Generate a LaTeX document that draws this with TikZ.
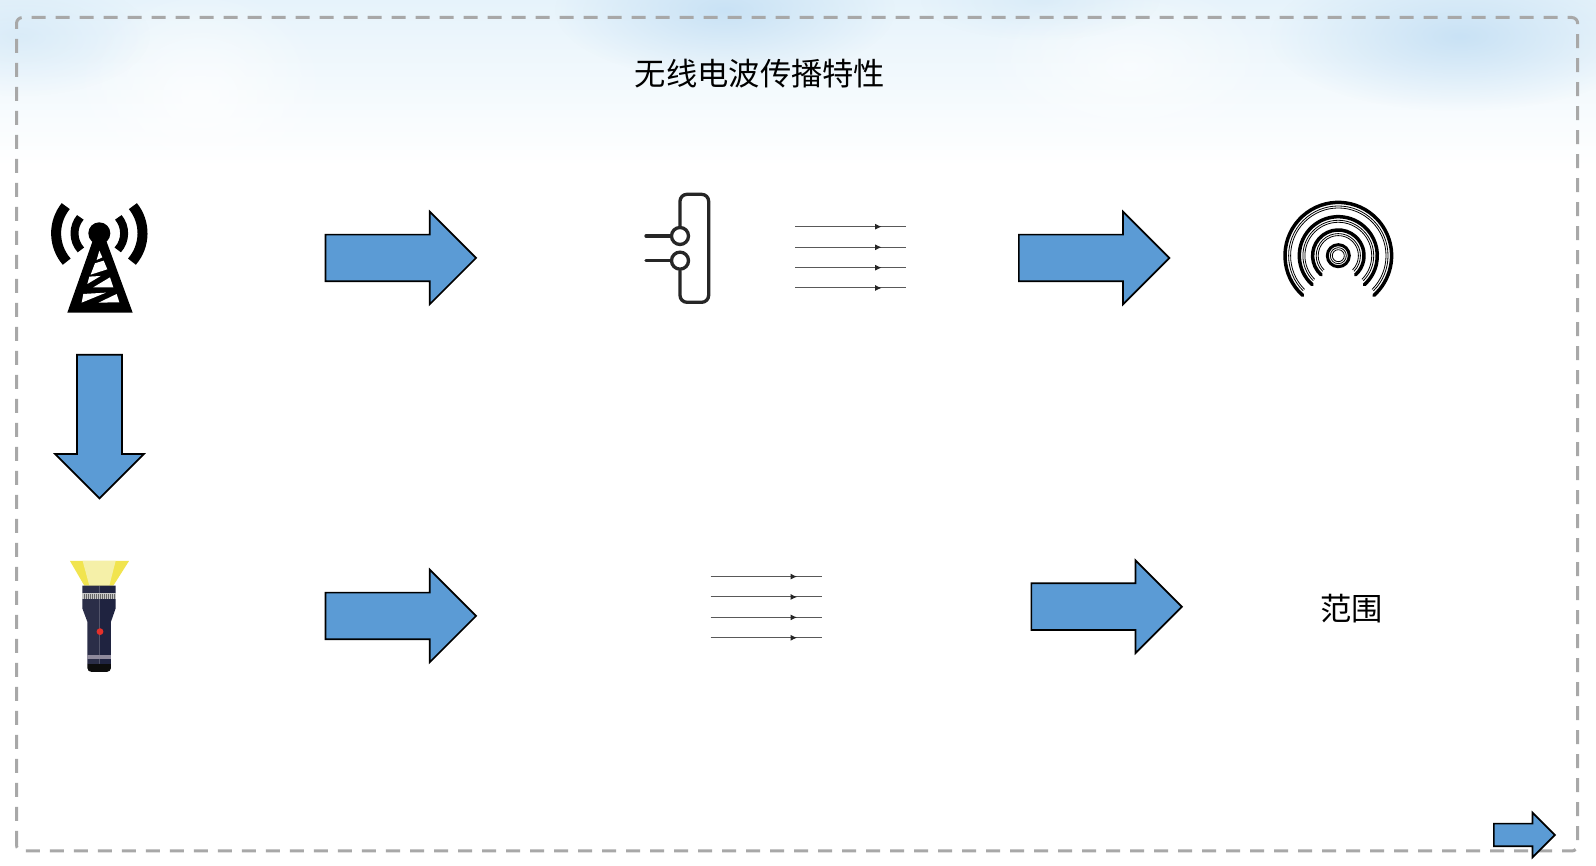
\documentclass[tikz,border=0pt]{standalone}
\usepackage{fontspec}
\newfontfamily\cjk{Noto Sans CJK SC}
\usetikzlibrary{shapes.arrows,arrows.meta,decorations.markings,fadings}
\definecolor{arrowblue}{HTML}{5B9BD5}
\definecolor{framegray}{HTML}{A8A8A8}
\definecolor{skyblue}{HTML}{C9E2F5}
\definecolor{skytop}{HTML}{E6F3FB}
\definecolor{lampdark}{HTML}{2B2E48}
\definecolor{lampnavy}{HTML}{1F2340}
\definecolor{beamouter}{HTML}{F1E44F}
\definecolor{beaminner}{HTML}{F5F0A8}
\definecolor{lampband}{HTML}{8F8A9C}
\definecolor{lampred}{HTML}{E5302A}
\tikzfading[name=blob,inner color=transparent!0,outer color=transparent!100]

\begin{document}
\begin{tikzpicture}[x=1pt,y=1pt]
    \tikzset{
      bigarrow/.style={single arrow,draw=black,fill=arrowblue,line width=1.7pt,inner sep=22.5pt,
        anchor=tail,minimum height=150.5pt,minimum width=92.5pt,single arrow head extend=23pt},
      smallarrow/.style={bigarrow,inner sep=10.5pt,minimum height=61pt,minimum width=44.3pt,single arrow head extend=11pt},
      title/.style={font=\cjk\fontsize{31.3}{31.3}\selectfont,inner sep=0pt},
      ray/.style={draw=black!65,line width=1pt,postaction={decorate},decoration={markings,
        mark=at position 0.78 with {\arrow[black!85]{Latex[length=6.5pt,width=6pt]}}}},
      cloud/.style={fill=skyblue,path fading=blob},
      mast/.style={draw=black,line cap=butt},
      coil/.style={draw=black!85,line width=3.3pt,line cap=round},
      ring/.style={draw=black,line width=3.5pt,line cap=round},
      thinring/.style={draw=black,line width=0.8pt}
    }
    \useasboundingbox (0,0) rectangle (1596,866);

    % sky behind the title
    \fill[white] (0,0) rectangle (1596,866);
    \shade[top color=skytop,bottom color=white] (0,700) rectangle (1596,866);
    \fill[white,path fading=blob,opacity=0.7] (200,770) ellipse (130pt and 110pt);
    \fill[white,path fading=blob,opacity=0.6] (1130,800) ellipse (150pt and 90pt);
    \fill[cloud] (725,856) ellipse (170pt and 70pt);
    \fill[cloud] (1460,830) ellipse (190pt and 75pt);
    \fill[cloud,opacity=0.5] (20,830) ellipse (130pt and 60pt);
    \fill[cloud,opacity=0.4] (1040,866) ellipse (120pt and 40pt);

    % outer frame
    \draw[framegray,line width=3pt,dash pattern=on 14pt off 10pt,rounded corners=6pt]
      (16.5,15) rectangle (1577.7,848.5);

    \node[title] (heading) at (760,792) {无线电波传播特性};
    \node[title] (range) at (1351.5,257) {范围};

    % block arrows
    \node[bigarrow] (txarrow) at (324.7,608) {};
    \node[bigarrow] (rxarrow) at (1018,608) {};
    \node[bigarrow,inner sep=21.5pt,minimum height=143.5pt,minimum width=88.5pt,single arrow head extend=21.5pt,
      shape border rotate=270] (downarrow) at (99.5,512) {};
    \node[bigarrow] (lamparrow) at (324.7,250) {};
    \node[bigarrow] (beamarrow) at (1030.5,259.3) {};
    \node[smallarrow] (nextarrow) at (1493,31) {};

    % radio mast, in zoom units
    \begin{scope}[shift={(0,696)},x=0.3333pt,y=-0.3333pt]
      \coordinate (top) at (298,190);
      \fill (top) circle[radius=11pt];
      \fill (202,428) -- (398,428) -- (318,210) -- (279,210) -- cycle;
      \fill[white] (298,242) -- (307,262) -- (290,270) -- cycle;
      \fill[white] (285,280) -- (311,272) -- (322,298) -- (272,314) -- cycle;
      \fill[white] (268,320) -- (302,318) -- (262,342) -- cycle;
      \fill[white] (330,322) -- (340,352) -- (280,352) -- cycle;
      \fill[white] (250,372) -- (318,368) -- (245,398) -- cycle;
      \fill[white] (350,372) -- (358,397) -- (296,398) -- cycle;
      \draw[mast,line width=10pt] (top) ++(141:43.2pt) arc[start angle=141,end angle=221,radius=43.2pt];
      \draw[mast,line width=10pt] (top) ++(39:43.2pt) arc[start angle=39,end angle=-41,radius=43.2pt];
      \draw[mast,line width=8pt] (top) ++(140:24.8pt) arc[start angle=140,end angle=222,radius=24.8pt];
      \draw[mast,line width=8pt] (top) ++(40:24.8pt) arc[start angle=40,end angle=-42,radius=24.8pt];
    \end{scope}

    % loop aerial
    \begin{scope}[shift={(620,696)},x=0.3333pt,y=-0.3333pt]
      \node[circle,draw=black!85,line width=3.3pt,minimum size=17pt,inner sep=0pt] (portA) at (180,198) {};
      \node[circle,draw=black!85,line width=3.3pt,minimum size=17pt,inner sep=0pt] (portB) at (180,272) {};
      \coordinate (stubA) at (78,198);
      \coordinate (stubB) at (78,272);
      \draw[coil] (stubA) -- (portA);
      \draw[coil] (stubB) -- (portB);
      \draw[coil,rounded corners=7pt] (portA.north) -- (180,73) -- (266,73) -- (266,397) -- (180,397) -- (portB.south);
    \end{scope}

    % parallel rays
    \foreach \i/\ya/\yb in {1/639.3/289.4,2/618.7/269,3/598.3/248.6,4/578/228.2} {
      \coordinate (ra\i) at (795,\ya);
      \coordinate (rb\i) at (906,\ya);
      \coordinate (sa\i) at (710.5,\yb);
      \coordinate (sb\i) at (821.5,\yb);
      \path[ray] (ra\i) -- (rb\i);
      \path[ray] (sa\i) -- (sb\i);
    }

    % rings
    \coordinate (rings) at (1338.3,610.3);
    \foreach \r in {53.3,39,25.7} {
      \draw[ring] (rings) ++(228:\r pt) arc[start angle=228,end angle=-48,radius=\r pt];
      \draw[thinring] (rings) ++(225:\r pt-3.6pt) arc[start angle=225,end angle=-45,radius=\r pt-3.6pt];
      \draw[thinring] (rings) ++(225:\r pt-5.6pt) arc[start angle=225,end angle=-45,radius=\r pt-5.6pt];
    }
    \draw[black,line width=3pt] (rings) circle[radius=11pt];
    \draw[thinring] (rings) circle[radius=8pt];
    \draw[thinring] (rings) circle[radius=6pt];

    % flashlight, in zoom units
    \begin{scope}[shift={(50,326)},x=0.3333pt,y=-0.3333pt]
      \fill[beamouter] (60,63) -- (237,63) -- (190,137) -- (103,137) -- cycle;
      \fill[beaminner] (98,63) -- (197,63) -- (178,137) -- (118,137) -- cycle;
      \fill[black!95] (112,372) -- (183,372) -- (183,384) to[out=270,in=0] (170,396) -- (125,396) to[out=180,in=270] (112,384) -- cycle;
      \fill[lampdark] (97,137) -- (148,137) -- (148,372) -- (112,372) -- (112,245) -- (97,205) -- cycle;
      \fill[lampnavy] (148,137) -- (197,137) -- (197,205) -- (183,245) -- (183,372) -- (148,372) -- cycle;
      \fill[black!22] (97,160) rectangle (197,178);
      \foreach \x in {102,108,...,192} \draw[black!60,line width=0.5pt] (\x,162) -- (\x,176);
      \fill[lampband] (112,345) rectangle (183,358);
      \fill[lampred] (150,275) circle[radius=3.4pt];
    \end{scope}
  \end{tikzpicture}
\end{document}
